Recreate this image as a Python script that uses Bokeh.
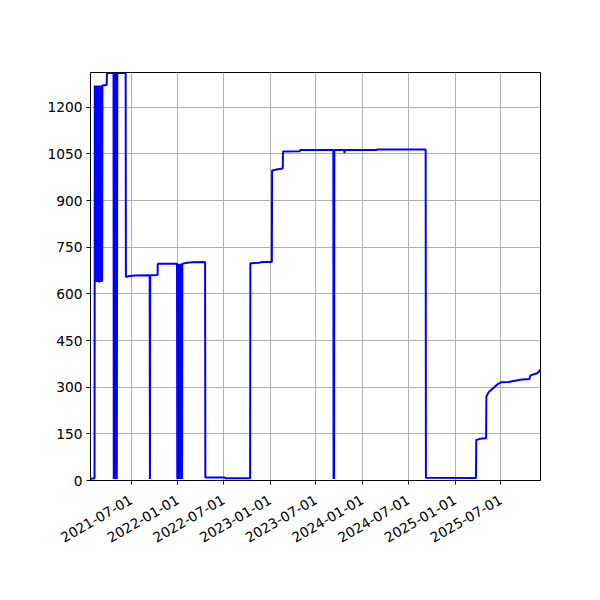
import pandas as pd
from math import pi
from bokeh.plotting import figure
from bokeh.models import Range1d, FixedTicker, DatetimeTickFormatter, ColumnDataSource
from bokeh.embed import file_html
from bokeh.resources import INLINE

# series (date, value)
dates = [
    "2021-01-21", "2021-02-06", "2021-02-07",
    "2021-02-08", "2021-02-10", "2021-02-12", "2021-02-14", "2021-02-16", "2021-02-18",
    "2021-02-20", "2021-02-22", "2021-02-24", "2021-02-26", "2021-02-28", "2021-03-02",
    "2021-03-04", "2021-03-06", "2021-03-08", "2021-03-09",
    "2021-03-26", "2021-03-27",
    "2021-04-22", "2021-04-23", "2021-04-25", "2021-04-27", "2021-04-29", "2021-05-01",
    "2021-05-03", "2021-05-05", "2021-05-07",
    "2021-06-09", "2021-06-10", "2021-06-20", "2021-07-15", "2021-09-12", "2021-09-13",
    "2021-09-14", "2021-10-13", "2021-10-14", "2021-12-29",
    "2021-12-30", "2021-12-31", "2022-01-02", "2022-01-04", "2022-01-06", "2022-01-08",
    "2022-01-10", "2022-01-12", "2022-01-14", "2022-01-16", "2022-01-18", "2022-01-19",
    "2022-02-07", "2022-03-01", "2022-04-19", "2022-04-20", "2022-07-07", "2022-07-08",
    "2022-10-14", "2022-10-15", "2022-11-20", "2022-12-01", "2023-01-08", "2023-01-09",
    "2023-02-01", "2023-02-20", "2023-02-21", "2023-04-29", "2023-04-30",
    "2023-09-08", "2023-09-09", "2023-09-10", "2023-09-11", "2023-09-12",
    "2023-10-21", "2023-10-22", "2023-10-24", "2024-02-26", "2024-02-27",
    "2024-09-07", "2024-09-08", "2025-03-25", "2025-03-26", "2025-04-10", "2025-05-04",
    "2025-05-05", "2025-05-14", "2025-05-25", "2025-06-03", "2025-06-16", "2025-07-02",
    "2025-08-01", "2025-08-20", "2025-09-23", "2025-10-22", "2025-10-26", "2025-11-22",
    "2025-12-05",
]
values = [
    6, 7, 1270,
    640, 1270, 640, 1270, 638, 1270,
    640, 1268, 637, 1270, 640, 1270,
    638, 1270, 640, 1270,
    1272, 1310,
    1310, 5, 1310, 5, 1310, 6,
    1310, 5, 1310,
    1310, 654, 657, 659, 660, 5,
    660, 661, 697, 697,
    5, 697, 5, 697, 5, 697,
    5, 697, 5, 697, 5, 697,
    700, 702, 703, 10, 10, 7,
    7, 699, 700, 703, 703, 997,
    1001, 1003, 1058, 1059, 1063,
    1063, 5, 1063, 5, 1063,
    1063, 1053, 1063, 1063, 1064,
    1064, 9, 8, 130, 134, 136,
    270, 284, 292, 298, 308, 316,
    317, 320, 325, 326, 338, 345,
    356,
]

x_ticks = ["2021-07-01", "2022-01-01", "2022-07-01", "2023-01-01", "2023-07-01",
           "2024-01-01", "2024-07-01", "2025-01-01", "2025-07-01"]
y_ticks = [0, 150, 300, 450, 600, 750, 900, 1050, 1200]

src = ColumnDataSource(data=dict(x=pd.to_datetime(dates), y=values))

p = figure(width=592, height=592, x_axis_type="datetime",
           x_range=Range1d(pd.Timestamp("2021-01-21"), pd.Timestamp("2025-12-05")),
           y_range=Range1d(0, 1312),
           output_backend="svg", toolbar_location=None,
           min_border_left=90, min_border_right=52,
           min_border_top=72, min_border_bottom=112)

p.line("x", "y", source=src, color="blue", line_width=2)

p.xaxis.ticker = FixedTicker(ticks=[pd.Timestamp(d).value // 10**6 for d in x_ticks])
fmt = "%Y-%m-%d"
p.xaxis.formatter = DatetimeTickFormatter(
    microseconds=fmt, milliseconds=fmt, seconds=fmt, minsec=fmt, minutes=fmt,
    hourmin=fmt, hours=fmt, days=fmt, months=fmt, years=fmt,
    strip_leading_zeros=False)
p.xaxis.major_label_orientation = pi / 6
p.yaxis.ticker = FixedTicker(ticks=y_ticks)

for ax in (p.xaxis, p.yaxis):
    ax.major_label_text_font = "DejaVu Sans"
    ax.major_label_text_font_size = "13.8px"
    ax.major_label_text_color = "black"
    ax.axis_line_color = "black"
    ax.major_tick_line_color = "black"
    ax.major_tick_in = 0
    ax.major_tick_out = 4
    ax.minor_tick_line_color = None
    ax.major_label_standoff = 4

p.xaxis.major_label_standoff = 14

p.grid.grid_line_color = "#b0b0b0"
p.grid.grid_line_width = 1
p.grid.grid_line_alpha = 1
p.outline_line_color = "black"
p.outline_line_width = 1
p.outline_line_alpha = 1

open("out.html", "w").write(file_html(p, INLINE))
